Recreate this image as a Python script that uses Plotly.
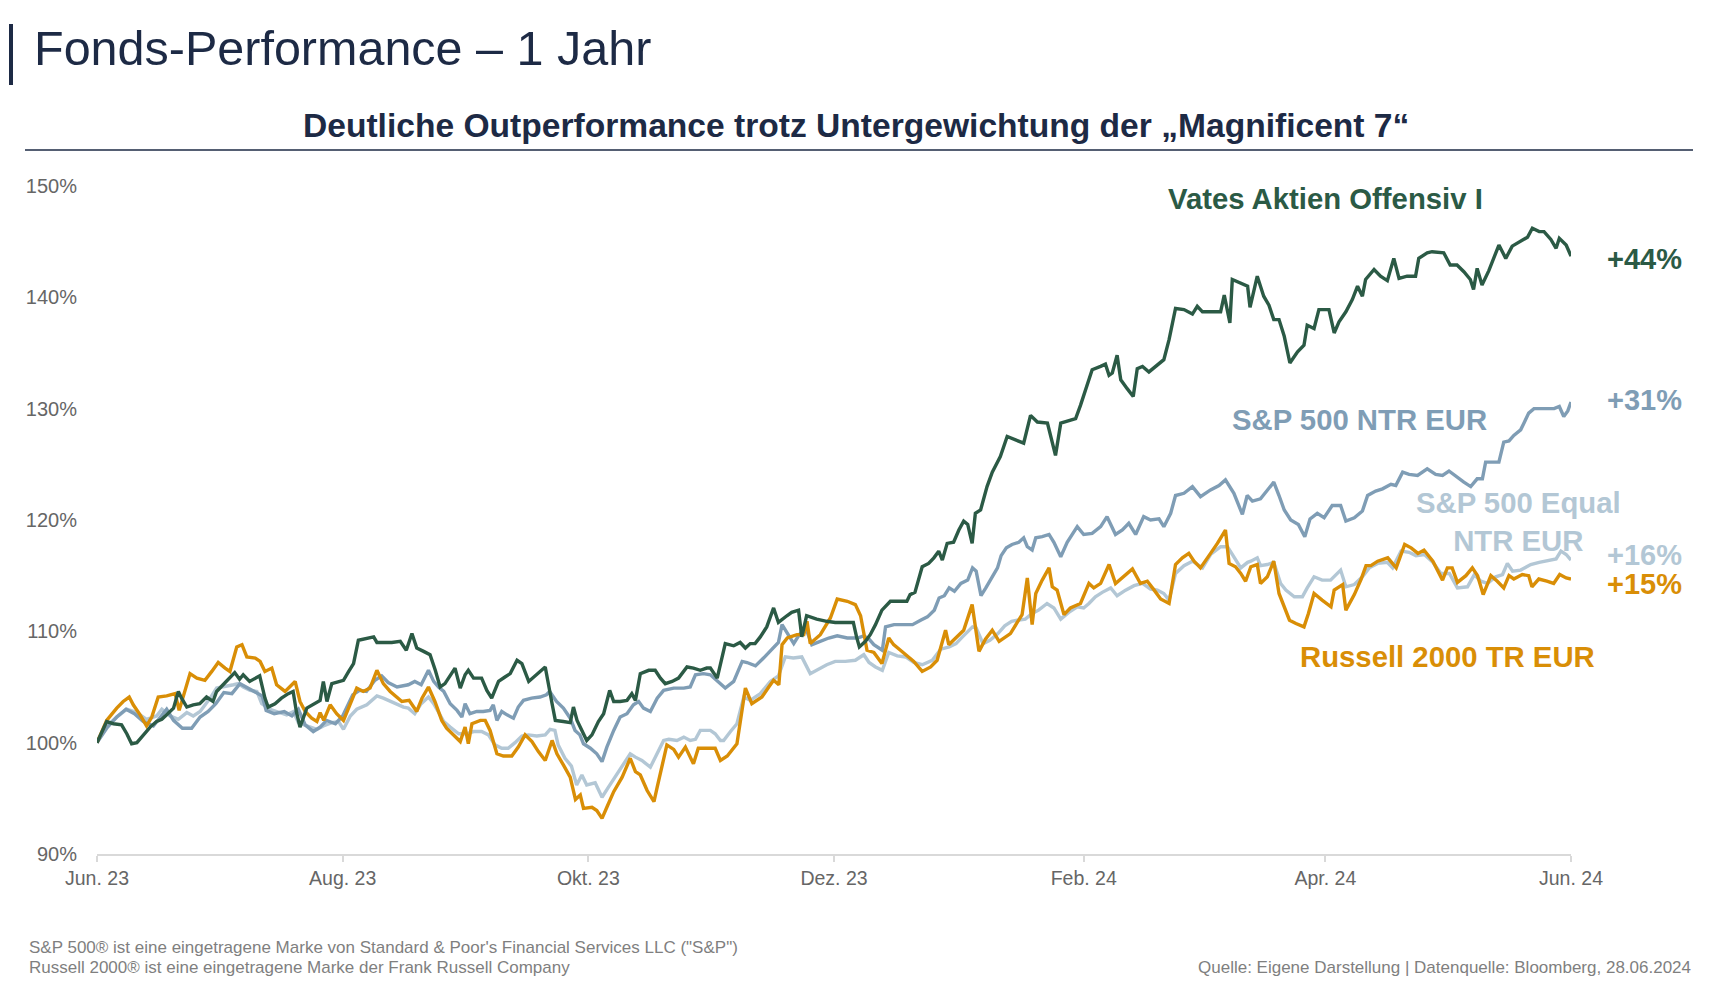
import pandas as pd
import plotly.graph_objects as go

START = "2023-06-28"

# ---------------- data (days since 28.06.2023, index level in %) ----------------
vates_days = [0, 2.4, 4.1, 6.1, 7.4, 8.6, 9.9, 11.5, 13.2, 14.8, 16.1, 17.3, 19, 20.2, 21, 22.3, 23.9, 25.5,
              27.2, 28.8, 29.7, 31.3, 33, 34.2, 35.4, 36.3, 37.9, 39.6, 40.4, 41.7, 42.5, 44.2, 45.8, 47.5,
              48.7, 49.5, 50.4, 52.1, 53.7, 55.4, 56.2, 57.1, 58.3, 60, 61.2, 62.5, 63.7, 64.9, 67, 68.7,
              69.5, 71.1, 73.2, 75.3, 76.8, 78.2, 79.4, 81.1, 82.7, 84, 85.2, 86.4, 87.7, 88.9, 90.2, 91.4,
              92.2, 93.5, 95.5, 96.8, 98, 99.7, 101.3, 102.6, 104.3, 105.5, 107.2, 109.2, 111.3, 113, 113.8,
              115.8, 117.5, 118.3, 119.2, 120.4, 121.6, 122.9, 124.5, 125.8, 127.3, 128.3, 129.9, 131.6,
              132.8, 133.7, 134.9, 137, 138.6, 139.9, 141.1, 142.8, 144.4, 146.5, 148.1, 149.8, 151.4, 152.3,
              154, 156, 158.1, 159.7, 161, 162.2, 163.4, 164.7, 166.3, 168, 169.2, 171.3, 172.5, 174.2, 175,
              176.2, 178.7, 181.2, 183.3, 185.7, 187.8, 188.6, 189.3, 190.8, 192, 193.3, 194.9, 197, 199,
              201.1, 201.9, 203.1, 204.9, 206.5, 207.8, 209, 209.9, 211.1, 212.7, 214, 215.2, 216.2, 217.3,
              218.1, 219.4, 221, 222.3, 224.3, 226, 228.1, 230.1, 231.8, 233.5, 236, 238, 239.3, 240.9, 243,
              244.2, 245.5, 247.1, 249.2, 250.4, 251.3, 252.1, 253.3, 254.2, 255.8, 257.3, 258.3, 259.6,
              261.2, 262.9, 264.9, 266.2, 267.8, 269.9, 272, 273.2, 274.5, 276.5, 279, 279.9, 281.3, 281.9,
              284, 285.7, 286.3, 288.1, 289.7, 291, 292.2, 293.5, 294.8, 296.2, 298.1, 299.7, 300.5, 302.2,
              303.4, 305.9, 307.2, 308.4, 310.1, 311.7, 313, 314.2, 315, 317.1, 318.7, 320.4, 322, 323.3,
              325.3, 327.4, 328.2, 330.3, 331.5, 334.4, 336, 337.7, 339.4, 341, 341.8, 342.7, 343.9, 345.6,
              348.1, 349.8, 351.4, 353.5, 355.2, 356.4, 358.1, 359.3, 361, 362.3, 363.1, 364.8, 366]
vates_vals = [100.0, 101.9, 101.7, 101.6, 100.8, 99.9, 100.0, 100.7, 101.4, 101.9, 102.1, 102.5, 103.1, 104.6,
              104.0, 103.2, 103.4, 103.5, 104.1, 103.7, 104.6, 105.2, 105.9, 106.3, 105.7, 106.1, 105.5,
              105.8, 106.0, 104.0, 103.2, 103.5, 104.0, 104.4, 104.6, 102.8, 101.4, 103.1, 103.4, 103.8,
              105.5, 103.7, 105.3, 105.5, 105.6, 106.4, 107.1, 109.2, 109.4, 109.5, 109.0, 109.0, 109.0,
              109.1, 108.3, 109.8, 108.5, 108.2, 107.9, 106.5, 105.0, 105.3, 106.1, 106.7, 104.9, 106.1,
              106.5, 105.8, 105.8, 104.7, 104.0, 105.5, 105.9, 106.2, 107.4, 107.1, 105.5, 106.1, 106.8,
              103.5, 102.0, 101.9, 101.8, 103.2, 102.0, 101.1, 100.2, 100.7, 101.9, 102.6, 104.7, 103.7,
              103.7, 103.8, 104.4, 103.8, 106.2, 106.5, 106.5, 105.8, 105.3, 105.5, 105.8, 106.8, 106.7,
              106.5, 106.7, 106.7, 105.8, 108.9, 108.7, 109.0, 108.5, 108.9, 108.9, 109.5, 110.4, 112.1,
              110.8, 111.4, 111.7, 111.9, 109.5, 111.4, 111.1, 110.9, 110.8, 110.8, 110.8, 109.5, 108.6,
              109.1, 109.7, 110.6, 111.9, 112.7, 112.7, 112.7, 113.3, 113.5, 115.8, 116.1, 116.6, 117.2,
              116.4, 117.9, 118.0, 119.1, 119.9, 119.6, 117.9, 120.6, 120.9, 123.0, 124.3, 125.7, 127.5,
              127.2, 126.9, 129.4, 128.8, 128.7, 125.8, 128.7, 128.9, 129.1, 130.3, 131.7, 133.5, 133.8,
              134.0, 133.0, 133.2, 134.8, 132.6, 131.8, 131.1, 133.6, 133.8, 133.3, 133.8, 134.4, 136.2,
              139.0, 138.9, 138.5, 139.2, 138.7, 138.7, 138.7, 140.2, 137.7, 141.6, 141.3, 141.0, 139.1,
              141.9, 140.1, 139.3, 138.0, 138.0, 136.5, 134.1, 135.1, 135.7, 137.5, 137.2, 138.9, 138.9,
              136.8, 137.8, 138.7, 139.8, 141.0, 140.1, 141.6, 142.5, 141.9, 141.5, 143.5, 141.7, 141.9,
              141.9, 143.5, 144.0, 144.1, 144.0, 142.9, 142.9, 142.3, 141.6, 140.7, 142.6, 141.1, 142.4,
              144.7, 143.5, 144.6, 145.0, 145.4, 146.2, 145.9, 145.9, 145.2, 144.4, 145.3, 144.7, 143.7]

sp500_days = [0, 2.4, 4.9, 7.2, 9.3, 11.5, 14, 15.8, 17.3, 19, 21.2, 23.5, 25.6, 27.6, 29.5, 31.5, 33.5, 35.5,
              37, 39, 41, 42, 44, 46.5, 48.4, 50, 51.7, 53.7, 55.4, 57, 59.2, 61, 63.5, 65.2, 66.9, 69, 70.7,
              72.3, 74.5, 77.3, 78.9, 80.5, 82.3, 83.6, 84.8, 86.1, 87.7, 89.4, 90.6, 91.4, 92.6, 94.3, 95.9,
              97.6, 98.4, 99.3, 100.5, 101.8, 103.4, 104.6, 105.9, 107.9, 110, 111.6, 112.4, 114.1, 115.8,
              117.5, 118.7, 119.9, 120.8, 122.5, 124.1, 125.4, 126.6, 128.3, 129.9, 131.6, 133.2, 134.5,
              135.7, 137.4, 139.1, 140.7, 143.2, 145.7, 147.3, 148.6, 150.6, 152.3, 154, 156, 158.1, 160.2,
              161.4, 163.5, 165.5, 167.6, 169.2, 170.1, 171.3, 173, 174.2, 175.9, 177.5, 179.6, 181.7, 183.8,
              186.3, 188.8, 190.4, 191.7, 192.9, 195, 195.8, 197.9, 200.4, 202.5, 204.5, 206.2, 207.9, 209.1,
              210.4, 211.6, 212.9, 214.5, 216.2, 217.4, 218.3, 219.5, 220.7, 222.4, 223.6, 224.5, 225.8,
              227.2, 228.9, 230.1, 231, 232.2, 233.1, 234.7, 236.4, 237.6, 239.3, 240.9, 243.4, 245, 247.1,
              249.2, 250.8, 252.9, 254.6, 256.2, 257.9, 259.9, 261.6, 263.7, 264.9, 266.6, 267.8, 269.9, 272,
              274, 276.5, 278.6, 280.2, 282.3, 284.4, 285.6, 286.9, 288.9, 290.6, 292.2, 293.5, 294.8, 296.4,
              298.3, 299.9, 301.2, 303, 304.7, 306.7, 308.8, 310.1, 312.2, 314.2, 315.5, 317.5, 319.2, 321.3,
              322.5, 324.2, 325.8, 327.9, 330.3, 332.4, 334.1, 335.7, 337.8, 339.4, 341.1, 342.7, 344, 344.8,
              346.5, 348.1, 349.3, 350.6, 351.8, 353.5, 354.3, 355.5, 356.8, 359.3, 361.8, 363.1, 364.2,
              365.2, 366]
sp500_vals = [100.0, 101.3, 102.3, 103.0, 102.6, 101.9, 101.5, 102.3, 103.0, 102.0, 101.3, 101.3, 102.3, 102.8,
              103.5, 104.5, 104.4, 105.3, 105.0, 104.6, 104.2, 102.9, 102.6, 102.8, 102.4, 103.0, 101.6,
              101.0, 101.4, 102.0, 101.7, 102.4, 104.3, 104.7, 104.6, 105.6, 106.0, 105.4, 105.0, 105.2,
              105.5, 105.2, 106.5, 105.5, 105.0, 104.6, 103.5, 102.9, 102.3, 103.5, 102.6, 102.8, 102.8,
              102.9, 103.4, 102.0, 102.8, 102.5, 102.2, 103.2, 103.8, 104.0, 104.1, 104.3, 104.6, 103.7,
              103.1, 102.2, 101.1, 100.7, 99.9, 99.5, 99.0, 98.3, 99.6, 101.1, 102.3, 102.6, 103.4, 103.7,
              103.1, 102.8, 104.0, 104.7, 104.9, 104.9, 105.0, 106.1, 106.2, 106.1, 105.5, 104.9, 105.5,
              107.3, 107.2, 106.9, 107.6, 108.4, 109.0, 110.6, 109.9, 108.9, 109.6, 110.4, 108.8, 109.1,
              109.4, 109.6, 109.4, 109.4, 109.6, 109.3, 108.8, 108.3, 110.4, 110.6, 110.6, 110.6, 111.0,
              111.3, 111.9, 113.0, 113.2, 113.9, 113.6, 114.3, 114.6, 115.7, 115.4, 113.2, 113.9, 114.9,
              115.7, 116.8, 117.5, 117.8, 118.0, 118.4, 117.6, 117.3, 118.4, 118.5, 118.7, 118.0, 116.7,
              118.0, 119.4, 118.7, 118.8, 119.4, 120.3, 118.7, 119.1, 119.7, 118.7, 120.3, 120.0, 120.1,
              119.4, 120.6, 122.2, 122.4, 123.0, 122.1, 122.7, 123.1, 123.6, 122.4, 120.5, 122.2, 121.7,
              121.9, 122.7, 123.4, 122.2, 120.9, 120.0, 119.6, 118.5, 120.1, 120.6, 120.2, 121.3, 121.3,
              119.9, 120.2, 120.8, 122.2, 122.6, 122.8, 123.2, 123.1, 124.3, 124.1, 124.0, 124.6, 124.1,
              124.0, 124.4, 123.8, 123.4, 123.0, 123.7, 123.7, 125.2, 125.2, 125.2, 127.0, 127.1, 127.6,
              128.1, 128.7, 129.6, 130.0, 130.0, 130.0, 130.2, 129.3, 129.8, 130.6]

equal_days = [0, 2.4, 4.9, 7.4, 9.9, 12.3, 14.8, 16.1, 18.1, 20.2, 22.3, 23.9, 25.6, 28.1, 29.7, 31.4, 33.9,
              35.1, 36.3, 38, 39.7, 40.9, 43, 44.6, 47.1, 48.8, 50, 52.1, 54.6, 56.2, 58.3, 60, 61.2, 62.9,
              64.5, 67, 69.5, 71.1, 73.6, 76.1, 77.3, 78.9, 80.5, 82.3, 83.6, 84.8, 86.1, 87.7, 89.8, 91.8,
              93.5, 95.5, 97.2, 98.8, 100.5, 102.1, 103.8, 105.5, 107.1, 109.2, 111.3, 112.5, 113.7, 114.5,
              116.2, 117.8, 119.1, 120.4, 121.6, 123.7, 125.4, 127, 129.1, 130.7, 132.4, 133.7, 135.3, 137.4,
              139.1, 140.7, 142, 144, 145.7, 147.3, 148.6, 149.8, 152.3, 153.5, 154.8, 155.6, 157.3, 158.9,
              160.6, 162.2, 164.7, 167.2, 169.2, 170.9, 172.9, 175, 177.1, 179.2, 181.2, 183.3, 185.8, 188.3,
              190.4, 191.7, 193.3, 195, 196.6, 198.7, 200.8, 202.8, 204.9, 207.4, 209.5, 211.6, 213.3, 214.9,
              216.2, 217.4, 218.3, 220, 221.7, 223.7, 225.4, 227.1, 228.5, 230.5, 232.2, 233.8, 235.9, 237.6,
              239.3, 241.3, 243.4, 245, 246.3, 247.9, 249.6, 251.7, 253.3, 255.4, 257.5, 259.6, 261.6, 263.3,
              264.9, 266.2, 267.8, 269.9, 272, 274.5, 276.5, 279, 280.7, 281.9, 284, 285.7, 286.5, 288.1,
              288.9, 290.6, 292.2, 293.9, 295.2, 297.3, 299.3, 300.5, 302.2, 304.2, 306.3, 308.8, 310.1,
              312.2, 314.2, 315.9, 318, 320.4, 321.7, 323.8, 325.8, 327.5, 329.6, 331.7, 333.7, 335.8, 337.8,
              340.3, 342, 343.6, 345.3, 347.3, 349, 350.2, 351.5, 353.5, 356, 358.1, 360.6, 362.3, 363.5,
              364.8, 366]
equal_vals = [100.0, 101.5, 102.3, 103.0, 102.7, 102.1, 102.4, 103.0, 102.4, 102.1, 102.7, 102.4, 102.8, 104.0,
              104.9, 105.0, 105.2, 105.3, 105.0, 104.7, 104.6, 103.5, 103.0, 102.8, 102.5, 102.8, 101.8,
              101.5, 101.2, 101.5, 101.8, 101.9, 101.2, 102.4, 103.0, 103.4, 104.2, 104.0, 103.6, 103.2,
              103.1, 102.6, 103.5, 104.1, 103.5, 102.8, 101.9, 101.4, 100.8, 100.8, 101.0, 101.0, 100.7,
              99.8, 99.5, 99.5, 100.0, 100.6, 100.7, 100.6, 100.7, 101.2, 101.1, 99.8, 98.6, 97.9, 96.2,
              97.1, 96.2, 96.4, 95.1, 96.0, 97.2, 98.0, 99.0, 98.7, 98.4, 97.8, 99.0, 100.2, 100.3, 100.2,
              100.5, 100.2, 100.3, 101.1, 101.1, 100.8, 100.2, 100.2, 101.0, 101.7, 104.1, 103.8, 104.4,
              105.5, 106.0, 107.7, 107.6, 107.7, 106.2, 106.6, 107.0, 107.3, 107.3, 107.4, 107.9, 107.2,
              106.8, 106.5, 108.1, 107.8, 107.7, 107.2, 107.0, 107.4, 108.4, 108.6, 108.9, 109.5, 110.0,
              110.4, 110.3, 108.9, 109.2, 109.8, 110.5, 110.9, 111.0, 111.1, 111.6, 111.9, 112.5, 112.1,
              111.1, 111.7, 112.2, 112.1, 112.5, 113.1, 113.5, 113.9, 113.2, 113.7, 114.1, 114.3, 113.8,
              113.7, 113.4, 112.8, 115.2, 115.9, 116.3, 115.7, 116.9, 117.6, 117.6, 116.9, 115.7, 116.2,
              116.3, 116.6, 115.9, 116.0, 116.2, 114.3, 113.7, 113.1, 113.1, 113.9, 114.9, 114.6, 114.6,
              115.5, 114.0, 114.2, 114.9, 115.7, 116.1, 116.2, 115.7, 117.2, 117.1, 116.8, 116.9, 116.2,
              115.2, 115.2, 113.9, 114.0, 115.1, 114.5, 114.3, 114.9, 115.1, 116.1, 115.4, 115.5, 116.0,
              116.2, 116.4, 116.5, 117.2, 116.9, 116.4]

russell_days = [0, 2.4, 4.9, 6.5, 8, 9, 10.7, 12.3, 13.6, 15.2, 17.3, 19.4, 20.4, 21.4, 23.1, 24.8, 26.8, 28.5,
                30.1, 31.8, 33, 34.7, 36, 37.2, 39.3, 40.5, 41.7, 43.4, 44.6, 46.7, 49.2, 50.4, 51.7, 53.3,
                54.6, 55.4, 56.3, 57.9, 59.5, 61.2, 62.9, 64.5, 66.1, 67.8, 69.5, 71.1, 72.8, 75.7, 77.5,
                79.4, 80.7, 82.3, 83.9, 85.6, 86.8, 88.5, 90.2, 91.4, 92.2, 93.1, 95.2, 96.4, 97.6, 99.3,
                100.9, 103, 104.6, 106.3, 108, 109.6, 111.3, 113, 114.2, 115.8, 117.5, 118.8, 120, 120.8,
                122.9, 124.1, 125.4, 126.6, 128.3, 130.4, 132.4, 133.7, 134.9, 136.6, 138.3, 139.1, 141.5,
                143.2, 144.4, 146.1, 148.1, 149.3, 151.4, 153.5, 154.8, 156.5, 158.9, 160.2, 161, 162.6,
                165.1, 166.8, 168, 169.3, 170.1, 171.4, 173.8, 175.5, 176.3, 177.1, 179.6, 182.1, 183.8,
                186.3, 188.3, 189.6, 191.2, 192.9, 194.9, 196.6, 197.8, 199.5, 201.2, 202.8, 204.9, 207,
                208.6, 210.7, 211.5, 213.6, 215.2, 217.3, 219, 220.6, 222.3, 224, 226.8, 228.5, 229.7, 231,
                232.2, 233.1, 234.7, 236.4, 237.2, 238.4, 240.1, 241.7, 244.2, 246.3, 247.5, 249.2, 251.3,
                252.9, 254.6, 257.1, 259.1, 260.8, 262.5, 264.1, 266.2, 267.8, 269.5, 271.1, 272.4, 274,
                276.5, 278.2, 280.2, 281.1, 282.7, 284, 285.2, 286.5, 288.1, 288.9, 290.6, 292.2, 293.5,
                294.8, 296.1, 297.7, 299.7, 300.8, 302.2, 304.2, 306.4, 307.2, 309.3, 310.1, 312.2, 313.9,
                315.1, 316.3, 318, 320.5, 322.6, 324.7, 326.3, 328, 329.5, 331.7, 332.8, 334.1, 335.3, 336.5,
                337.8, 339.9, 341.5, 342.8, 344.2, 346.1, 347.7, 349.3, 350.6, 351.8, 353.9, 355.5, 356.3,
                358, 360, 361.7, 363.2, 364.8, 366]
russell_vals = [100.0, 102.0, 103.1, 103.7, 104.1, 103.4, 102.5, 101.5, 102.3, 104.1, 104.2, 104.4, 102.9, 104.1,
                106.2, 105.8, 105.6, 106.4, 107.2, 106.7, 106.4, 108.6, 108.8, 107.7, 107.6, 107.3, 106.4,
                106.7, 105.2, 104.6, 105.5, 103.7, 102.8, 102.2, 101.9, 102.7, 102.0, 103.4, 102.6, 102.0,
                103.5, 104.9, 104.6, 104.9, 106.5, 105.3, 104.6, 103.7, 103.8, 102.8, 104.0, 105.0, 103.7,
                102.0, 101.3, 100.7, 100.1, 101.4, 99.9, 101.7, 102.0, 102.0, 101.1, 99.0, 98.8, 98.8, 99.6,
                100.7, 100.1, 99.2, 98.4, 100.2, 99.0, 98.0, 96.9, 94.9, 95.3, 94.1, 94.2, 93.9, 93.2, 94.2,
                95.6, 96.9, 98.6, 97.4, 97.1, 95.7, 94.7, 96.0, 99.8, 99.4, 98.7, 99.6, 98.1, 99.5, 99.5,
                99.5, 98.4, 98.8, 99.9, 102.9, 104.9, 103.5, 104.1, 105.0, 105.6, 105.2, 108.8, 109.4, 109.7,
                109.7, 110.9, 108.9, 109.7, 111.2, 112.9, 112.7, 112.4, 111.4, 108.3, 108.1, 107.1, 109.4,
                108.8, 108.3, 107.8, 107.3, 106.4, 106.8, 107.4, 110.1, 108.8, 109.5, 110.1, 112.4, 108.2,
                109.3, 110.1, 109.1, 109.8, 110.8, 111.5, 114.8, 110.6, 113.4, 114.6, 115.7, 114.0, 113.7,
                111.5, 112.1, 112.5, 114.3, 113.9, 114.3, 116.0, 114.3, 114.8, 115.6, 114.3, 114.5, 113.7,
                112.9, 112.5, 116.0, 116.6, 117.0, 116.3, 115.7, 117.0, 117.9, 119.1, 116.1, 115.8, 115.2,
                114.5, 115.8, 116.0, 114.3, 114.9, 116.3, 113.4, 112.2, 111.0, 110.7, 110.4, 111.6, 113.4,
                112.8, 112.2, 113.7, 114.2, 111.9, 113.3, 114.7, 115.9, 115.9, 116.3, 116.6, 115.7, 117.8,
                117.5, 117.0, 117.3, 116.3, 115.5, 114.6, 115.7, 115.7, 114.4, 115.0, 115.7, 115.0, 113.3,
                115.0, 114.5, 113.9, 115.0, 114.7, 115.1, 115.0, 114.0, 114.7, 114.5, 114.3, 115.1, 114.8,
                114.7]

tick_dates = ["2023-06-28", "2023-08-28", "2023-10-28", "2023-12-28", "2024-02-28", "2024-04-28", "2024-06-28"]
tick_labels = ["Jun. 23", "Aug. 23", "Okt. 23", "Dez. 23", "Feb. 24", "Apr. 24", "Jun. 24"]
y_ticks = [90, 100, 110, 120, 130, 140, 150]

names = ["Vates Aktien Offensiv I", "S&P 500 NTR EUR", "S&P 500 Equal<br>NTR EUR", "Russell 2000 TR EUR"]

# ---------------- styling ----------------
GREEN = "#2b5a45"
BLUE = "#7f9db5"
LIGHT = "#b3c7d5"
ORANGE = "#d98e06"
NAVY = "#1d2a45"
GREY = "#666666"
FONT = "Liberation Sans, Arial, sans-serif"

OFF = 8  # default page margin of the html body
W, H = 1714 - OFF, 994 - OFF
L, R, T, B = 97, 1571, 186, 854  # plot area in page pixels


def xp(X):
    return (X - L) / (R - L)


def yp(Y):
    return (B - Y) / (B - T)


def to_dates(days):
    return pd.Timestamp(START) + pd.to_timedelta(days, unit="D")


fig = go.Figure()
series = [
    (equal_days, equal_vals, LIGHT),
    (sp500_days, sp500_vals, BLUE),
    (russell_days, russell_vals, ORANGE),
    (vates_days, vates_vals, GREEN),
]
for d, v, c in series:
    fig.add_trace(go.Scatter(x=to_dates(d), y=v, mode="lines",
                             line=dict(color=c, width=3.4), hoverinfo="skip", showlegend=False))

ann = []


def add_text(text, X, Y, size, color, bold=False, xanchor="center", yanchor="middle", align="center"):
    ann.append(dict(text=f"<b>{text}</b>" if bold else text, x=xp(X), y=yp(Y), xref="paper", yref="paper",
                    xanchor=xanchor, yanchor=yanchor, align=align, showarrow=False,
                    font=dict(family=FONT, size=size, color=color)))


# titles
add_text("Fonds-Performance – 1 Jahr", 32, 48, 48.5, NAVY, xanchor="left")
add_text("Deutliche Outperformance trotz Untergewichtung der „Magnificent 7“", 856, 125, 33.6, NAVY, bold=True)

# series labels
add_text(names[0], 1325, 198, 29.3, GREEN, bold=True)
add_text(names[1], 1359, 419, 29.3, BLUE, bold=True)
add_text(names[2], 1518, 521, 29.3, LIGHT, bold=True)
add_text(names[3], 1447, 656, 29.3, ORANGE, bold=True)

# end values
ends = [(vates_vals[-1], GREEN, 259), (sp500_vals[-1], BLUE, 400), (equal_vals[-1], LIGHT, 555),
        (russell_vals[-1], ORANGE, 584)]
for v, c, Y in ends:
    add_text(f"+{v - 100:.0f}%", 1605, Y, 29, c, bold=True, xanchor="left")

# footnotes
add_text("S&P 500® ist eine eingetragene Marke von Standard & Poor's Financial Services LLC (\"S&P\")",
         27, 947, 17, "#7f7f7f", xanchor="left")
add_text("Russell 2000® ist eine eingetragene Marke der Frank Russell Company",
         27, 967, 17, "#7f7f7f", xanchor="left")
add_text("Quelle: Eigene Darstellung | Datenquelle: Bloomberg, 28.06.2024",
         1693, 967, 17, "#7f7f7f", xanchor="right")

shapes = [
    dict(type="line", xref="paper", yref="paper", x0=xp(11), x1=xp(11), y0=yp(24), y1=yp(85),
         line=dict(color=NAVY, width=4)),
    dict(type="line", xref="paper", yref="paper", x0=xp(25), x1=xp(1693), y0=yp(150), y1=yp(150),
         line=dict(color=NAVY, width=1.5)),
]

fig.update_layout(
    width=W, height=H,
    margin=dict(l=L - OFF, r=W - (R - OFF), t=T - OFF, b=H - (B - OFF), pad=0),
    paper_bgcolor="white", plot_bgcolor="white",
    annotations=ann, shapes=shapes,
    hovermode=False,
    xaxis=dict(type="date", range=[tick_dates[0], tick_dates[-1]], tickvals=tick_dates, ticktext=tick_labels,
               showgrid=False, zeroline=False, showline=True, linecolor="#d9d9d9", linewidth=2,
               ticks="outside", ticklen=6, tickcolor="#d9d9d9", tickwidth=1.5,
               tickfont=dict(family=FONT, size=19.5, color=GREY), ticklabelstandoff=0, fixedrange=True),
    yaxis=dict(range=[90, 150], tickvals=y_ticks, ticktext=[f"{t}%" for t in y_ticks],
               showgrid=False, zeroline=False, showline=False, ticks="",
               tickfont=dict(family=FONT, size=20, color=GREY), ticklabelstandoff=19, fixedrange=True),
)

fig.write_html("out.html")
